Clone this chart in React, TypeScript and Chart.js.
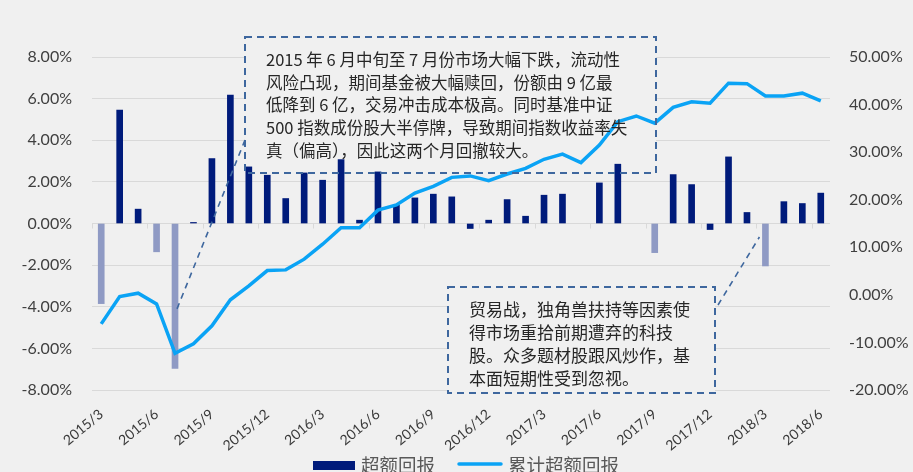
import React, { useEffect, useRef } from "react";
import { Chart, registerables } from "chart.js";

Chart.register(...registerables);

const months: string[] = [
  "2015/3", "2015/4", "2015/5", "2015/6", "2015/7", "2015/8", "2015/9", "2015/10", "2015/11", "2015/12",
  "2016/1", "2016/2", "2016/3", "2016/4", "2016/5", "2016/6", "2016/7", "2016/8", "2016/9", "2016/10", "2016/11", "2016/12",
  "2017/1", "2017/2", "2017/3", "2017/4", "2017/5", "2017/6", "2017/7", "2017/8", "2017/9", "2017/10", "2017/11", "2017/12",
  "2018/1", "2018/2", "2018/3", "2018/4", "2018/5", "2018/6",
];

// 超额回报 (%), left axis
const excessReturn: number[] = [
  -3.85, 5.45, 0.69, -1.36, -6.96, 0.05, 3.12, 6.17, 2.72, 2.32,
  1.2, 2.43, 2.08, 3.07, 0.16, 2.48, 0.88, 1.23, 1.41, 1.28, -0.24, 0.16,
  1.15, 0.35, 1.36, 1.41, 0, 1.95, 2.85, 0, -1.4, 2.35, 1.87, -0.29,
  3.2, 0.53, -2.04, 1.05, 0.96, 1.46,
];

// 累计超额回报 (%), right axis
const cumulativeReturn: number[] = [
  -6.1, -0.35, 0.35, -1.9, -12.3, -10.3, -6.5, -1.05, 1.9, 5.1,
  5.25, 7.5, 10.65, 14.1, 14.1, 17.8, 18.9, 21.4, 22.8, 24.7, 25.0, 24.0,
  25.4, 26.6, 28.5, 29.6, 27.8, 31.5, 36.4, 37.6, 36.1, 39.4, 40.6, 40.3,
  44.5, 44.4, 41.8, 41.8, 42.4, 40.8,
];

const seriesNames: string[] = ["超额回报", "累计超额回报"];

const note1: string[] = [
  "2015 年 6 月中旬至 7 月份市场大幅下跌，流动性",
  "风险凸现，期间基金被大幅赎回，份额由 9 亿最",
  "低降到 6 亿，交易冲击成本极高。同时基准中证",
  "500 指数成份股大半停牌，导致期间指数收益率失",
  "真（偏高），因此这两个月回撤较大。",
];

const note2: string[] = [
  "贸易战，独角兽扶持等因素使",
  "得市场重拾前期遭弃的科技",
  "股。众多题材股跟风炒作，基",
  "本面短期性受到忽视。",
];

const BG = "#F0F0F0";
const NAVY = "#001B7B";
const LIGHT = "#8F9AC4";
const LINE = "#0AA3F5";
const GRID = "#D9D9D9";
const DASH = "#3E679E";
const TXT_FONT = '"Noto Sans CJK SC", "Noto Sans", sans-serif';
const AXIS_FONT = "Lato, 'Noto Sans', sans-serif";

function drawBox(ctx: CanvasRenderingContext2D, x: number, y: number, w: number, h: number, fill: boolean) {
  ctx.save();
  if (fill) {
    ctx.fillStyle = BG;
    ctx.fillRect(x, y, w, h);
  } else {
    ctx.strokeStyle = DASH;
    ctx.lineWidth = 2;
    ctx.setLineDash([7, 5]);
    ctx.strokeRect(x, y, w, h);
  }
  ctx.restore();
}

function drawDashLine(ctx: CanvasRenderingContext2D, x1: number, y1: number, x2: number, y2: number) {
  ctx.save();
  ctx.strokeStyle = DASH;
  ctx.lineWidth = 1.6;
  ctx.setLineDash([6, 5]);
  ctx.beginPath();
  ctx.moveTo(x1, y1);
  ctx.lineTo(x2, y2);
  ctx.stroke();
  ctx.restore();
}

const box1 = { x: 245, y: 37, w: 411, h: 136 };
const box2 = { x: 448, y: 287, w: 267, h: 106 };

const decorPlugin = {
  id: "decor",
  beforeDraw(chart: any) {
    const ctx = chart.ctx as CanvasRenderingContext2D;
    ctx.save();
    ctx.fillStyle = BG;
    ctx.fillRect(0, 0, chart.width, chart.height);
    ctx.restore();
  },
  beforeDatasetsDraw(chart: any) {
    const ctx = chart.ctx as CanvasRenderingContext2D;
    const xs = chart.scales.x;
    const ys = chart.scales.y;
    const y0 = ys.getPixelForValue(0);
    const step = xs.getPixelForValue(1) - xs.getPixelForValue(0);
    ctx.save();
    ctx.strokeStyle = GRID;
    ctx.lineWidth = 1;
    for (let k = 0; k < months.length; k += 3) {
      const px = Math.round(xs.getPixelForValue(k) - step / 2) + 0.5;
      ctx.beginPath();
      ctx.moveTo(px, y0);
      ctx.lineTo(px, y0 + 5);
      ctx.stroke();
    }
    ctx.restore();
    drawBox(ctx, box1.x, box1.y, box1.w, box1.h, true);
    drawBox(ctx, box2.x, box2.y, box2.w, box2.h, true);
  },
  afterDatasetsDraw(chart: any) {
    const ctx = chart.ctx as CanvasRenderingContext2D;
    const xs = chart.scales.x;
    const ys = chart.scales.y;
    drawBox(ctx, box1.x, box1.y, box1.w, box1.h, false);
    drawBox(ctx, box2.x, box2.y, box2.w, box2.h, false);
    drawDashLine(ctx, xs.getPixelForValue(4) + 2, ys.getPixelForValue(-4.1), box1.x, 140);
    drawDashLine(ctx, box2.x + box2.w + 3, 305, xs.getPixelForValue(36) - 6, ys.getPixelForValue(-0.65));

    ctx.save();
    ctx.fillStyle = "#262626";
    ctx.textBaseline = "middle";
    ctx.textAlign = "left";
    ctx.font = `16.5px ${TXT_FONT}`;
    note1.forEach((t, i) => ctx.fillText(t, 266, 60 + i * 22.6));
    ctx.font = `17px ${TXT_FONT}`;
    note2.forEach((t, i) => ctx.fillText(t, 469, 310 + i * 22.8));
    ctx.restore();
  },
  afterDraw(chart: any) {
    const ctx = chart.ctx as CanvasRenderingContext2D;
    ctx.save();
    const cy = 465;
    ctx.fillStyle = NAVY;
    ctx.fillRect(313, 461, 42, 9);
    ctx.font = `18.5px ${TXT_FONT}`;
    ctx.fillStyle = "#595959";
    ctx.textBaseline = "middle";
    ctx.textAlign = "left";
    ctx.fillText(seriesNames[0], 361, cy);
    ctx.strokeStyle = LINE;
    ctx.lineWidth = 3.5;
    ctx.lineCap = "round";
    ctx.beginPath();
    ctx.moveTo(459, cy - 1);
    ctx.lineTo(501, cy - 1);
    ctx.stroke();
    ctx.fillText(seriesNames[1], 508, cy);
    ctx.restore();
  },
};

export default function App() {
  const canvasRef = useRef<HTMLCanvasElement | null>(null);

  useEffect(() => {
    document.body.style.margin = "0";
    document.body.style.background = BG;
    const canvas = canvasRef.current;
    if (!canvas) return;
    const chart = new Chart(canvas, {
      type: "bar",
      data: {
        labels: months,
        datasets: [
          {
            type: "line",
            label: seriesNames[1],
            data: cumulativeReturn,
            yAxisID: "y1",
            borderColor: LINE,
            backgroundColor: LINE,
            borderWidth: 3.5,
            pointRadius: 0,
            tension: 0,
            order: 0,
          } as any,
          {
            type: "bar",
            label: seriesNames[0],
            data: excessReturn,
            yAxisID: "y",
            backgroundColor: (c: any) => (c.raw === 0 ? "rgba(0,0,0,0)" : c.raw < -1 ? LIGHT : NAVY),
            barThickness: 6,
            order: 1,
          } as any,
        ],
      },
      options: {
        animation: false,
        responsive: false,
        maintainAspectRatio: false,
        layout: { padding: { top: 57, left: 0, right: 0, bottom: 0 } },
        plugins: {
          legend: { display: false },
          tooltip: { enabled: false },
          title: { display: false },
        },
        scales: {
          x: {
            type: "category",
            grid: { display: false, drawTicks: false },
            border: { display: false },
            ticks: {
              autoSkip: false,
              maxRotation: 40,
              minRotation: 40,
              padding: 16,
              color: "#3A3A3A",
              font: { family: AXIS_FONT, size: 14 },
              callback: function (this: any, val: any, idx: number) {
                return idx % 3 === 0 ? months[idx] : "";
              },
            },
            afterFit: (s: any) => {
              s.height = 82;
            },
          },
          y: {
            position: "left",
            min: -8,
            max: 8,
            grid: { color: GRID, drawTicks: false, lineWidth: 1 },
            border: { display: false },
            ticks: {
              stepSize: 2,
              padding: 20,
              color: "#404040",
              font: { family: AXIS_FONT, size: 16 },
              callback: (v: any) => Number(v).toFixed(2) + "%",
            },
            afterFit: (s: any) => {
              s.width = 92;
            },
          },
          y1: {
            position: "right",
            min: -20,
            max: 50,
            grid: { display: false, drawTicks: false },
            border: { display: false },
            ticks: {
              stepSize: 10,
              padding: 19,
              color: "#404040",
              font: { family: AXIS_FONT, size: 16 },
              callback: (v: any) => Number(v).toFixed(2) + "%",
            },
            afterFit: (s: any) => {
              s.width = 83;
            },
          },
        },
      } as any,
      plugins: [decorPlugin],
    });
    return () => chart.destroy();
  }, []);

  return (
    <div style={{ position: "fixed", left: 0, top: 0, width: 913, height: 472, background: BG }}>
      <canvas ref={canvasRef} width={913} height={472} style={{ width: 913, height: 472, display: "block" }} />
    </div>
  );
}
